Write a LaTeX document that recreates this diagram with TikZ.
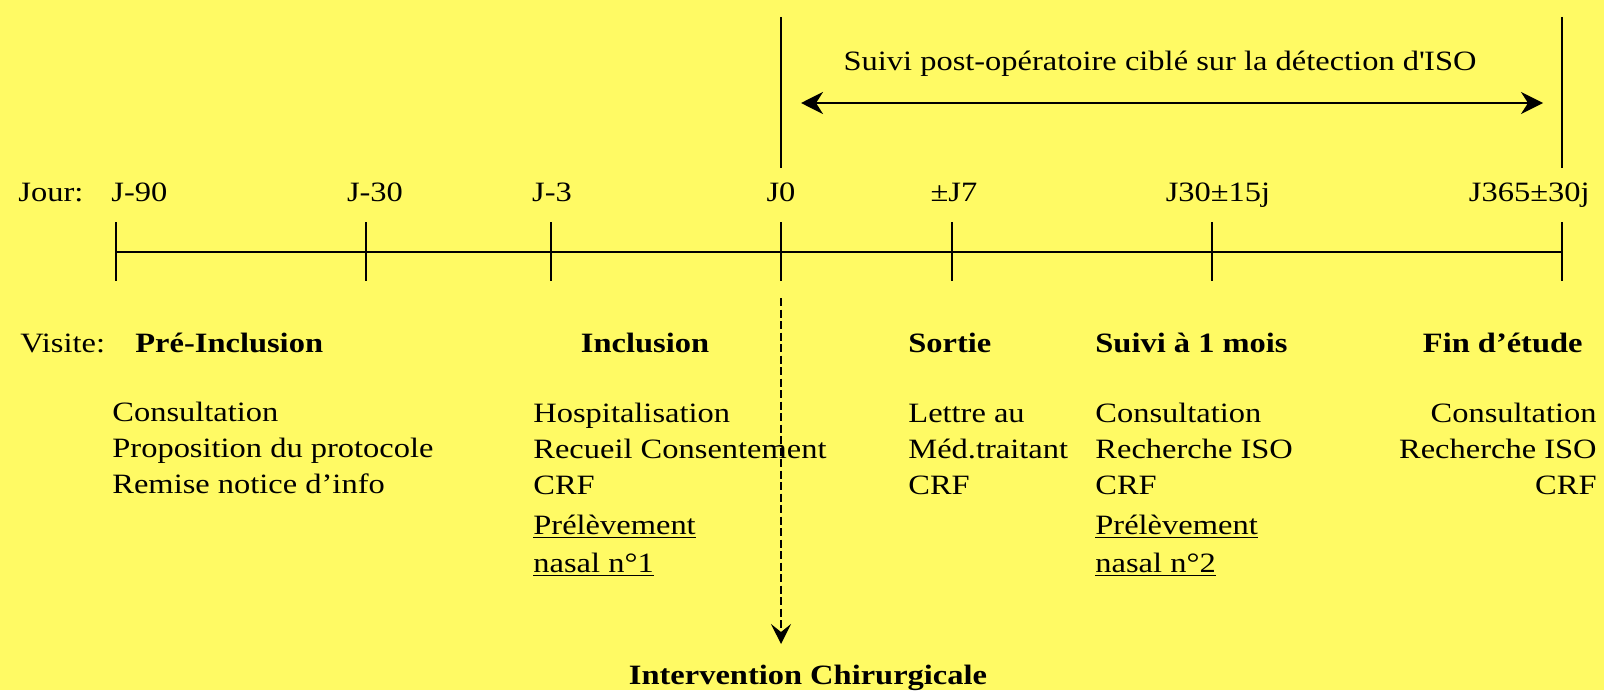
\documentclass[tikz,border=0pt]{standalone}
\usepackage{fontspec}
\setmainfont[FakeStretch=1.16]{Liberation Serif}
\usetikzlibrary{arrows.meta}
\definecolor{bg}{RGB}{255,250,100}
\begin{document}
\begin{tikzpicture}[x=0.5pt,y=-0.5pt,
  txt/.style={inner sep=0pt, font=\fontsize{14}{18}\selectfont},
  hd/.style={txt, font=\fontsize{14}{18}\selectfont\bfseries},
  axisline/.style={line width=0.8pt},
  tickline/.style={line width=0.75pt},
  bigline/.style={line width=0.85pt},
  dblarrow/.style={line width=1.2pt, {Stealth[length=11pt,width=11pt,inset=3.5pt]}-{Stealth[length=11pt,width=11pt,inset=3.5pt]}},
  dasharrow/.style={line width=0.7pt, dash pattern=on 4pt off 1.75pt, -{Stealth[length=10pt,width=10pt,inset=4pt]}}
]
\fill[bg] (0,0) rectangle (1604,690);
\useasboundingbox (0,0) rectangle (1604,690);

% tick positions on the axis
\coordinate (t90) at (116,252);
\coordinate (t30) at (366,252);
\coordinate (t3) at (551,252);
\coordinate (t0) at (781,252);
\coordinate (t7) at (952,252);
\coordinate (t30j) at (1212,252);
\coordinate (t365) at (1562,252);

\draw[axisline] (t90) -- (t365);
\foreach \c in {t90,t30,t3,t0,t7,t30j,t365}
  \draw[tickline] (\c) ++(0,-30) -- ++(0,59);

% tall lines and post-op arrow
\coordinate (top0) at (781,17);
\coordinate (bot0) at (781,168);
\coordinate (top365) at (1562,17);
\coordinate (bot365) at (1562,168);
\draw[bigline] (top0) -- (bot0);
\draw[bigline] (top365) -- (bot365);
\coordinate (al) at (801,103);
\coordinate (ar) at (1543,103);
\draw[dblarrow] (al) -- (ar);
\node[txt, anchor=base] (suivi) at (1160,71) {Suivi post-opératoire ciblé sur la détection d\textquotesingle ISO};

% day labels
\node[txt, anchor=base west] (jour) at (18,201) {Jour:};
\node[txt, anchor=base west] (l90) at (111,201) {J-90};
\node[txt, anchor=base] (l30) at (375,201) {J-30};
\node[txt, anchor=base] (l3) at (552,201) {J-3};
\node[txt, anchor=base] (l0) at (781,201) {J0};
\node[txt, anchor=base] (l7) at (954,201) {±J7};
\node[txt, anchor=base] (l30j) at (1218,201) {J30±15j};
\node[txt, anchor=base east] (l365) at (1590,201) {J365±30j};

% visit headings
\node[txt, anchor=base west] (visite) at (20,352) {Visite:};
\node[hd, anchor=base west] (hpre) at (135,352) {Pré-Inclusion};
\node[hd, anchor=base] (hinc) at (645,352) {Inclusion};
\node[hd, anchor=base west] (hsor) at (908,352) {Sortie};
\node[hd, anchor=base west] (hsui) at (1095,352) {Suivi à 1 mois};
\node[hd, anchor=base east] (hfin) at (1583,352) {Fin d’étude};

% visit contents
\node[txt, anchor=base west] (bpre) at (112,421) {\begin{tabular}[t]{@{}l@{}}Consultation\\Proposition du protocole\\Remise notice d’info\end{tabular}};
\node[txt, anchor=base west] (binc) at (533,422) {\begin{tabular}[t]{@{}l@{}}Hospitalisation\\Recueil Consentement\\CRF\\[2pt]\underline{Prélèvement}\\[1pt]\underline{nasal n°1}\end{tabular}};
\node[txt, anchor=base west] (bsor) at (908,422) {\begin{tabular}[t]{@{}l@{}}Lettre au\\Méd.traitant\\CRF\end{tabular}};
\node[txt, anchor=base west] (bsui) at (1095,422) {\begin{tabular}[t]{@{}l@{}}Consultation\\Recherche ISO\\CRF\\[2pt]\underline{Prélèvement}\\[1pt]\underline{nasal n°2}\end{tabular}};
\node[txt, anchor=base east] (bfin) at (1597,422) {\begin{tabular}[t]{@{}r@{}}Consultation\\Recherche ISO\\CRF\end{tabular}};

% surgery
\node[hd, anchor=base] (interv) at (808,684) {Intervention Chirurgicale};
\coordinate (dtop) at (781,298);
\coordinate (dtip) at (781,644);
\draw[dasharrow] (dtop) -- (dtip);
\end{tikzpicture}
\end{document}
